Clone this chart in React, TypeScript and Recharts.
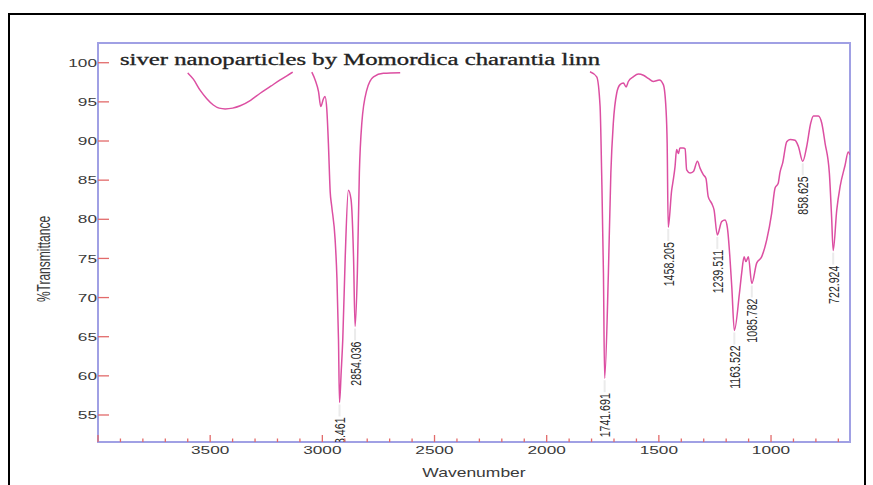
import React from 'react';
import { LineChart, Line, XAxis, YAxis, ReferenceArea, ReferenceDot } from 'recharts';

// Spectrum (wavenumber cm-1, %T). null = part of the trace hidden behind the title box.
const wavenumbers = [
  3600, 3575, 3545, 3515, 3486, 3460, 3433, 3400, 3366, 3320, 3277, 3230, 3188, 3160, 3132,
  3090,
  3047, 3032, 3017, 3007, 2995, 2988, 2980, 2973, 2965, 2958, 2943, 2935, 2928, 2923.461, 2916,
  2909, 2898, 2884, 2872, 2861, 2854.036, 2844, 2835, 2824, 2802, 2772, 2728, 2653,
  2200,
  1807, 1777, 1762, 1755, 1747, 1741.691, 1725, 1714, 1703, 1688, 1673, 1658, 1646, 1636, 1614,
  1591, 1569, 1547, 1525, 1498, 1480, 1468, 1463, 1458.205, 1443, 1436, 1428, 1421, 1413, 1406,
  1391, 1383, 1376, 1361, 1346, 1328, 1316, 1302, 1290, 1280, 1264, 1254, 1239.511, 1220, 1205,
  1195, 1175, 1163.522, 1141, 1131, 1120, 1112, 1101, 1085.782, 1064, 1042, 1019, 997, 982, 968,
  960, 948, 930, 915, 893, 878, 858.625, 841, 823, 811, 789, 774, 759, 740, 730, 722.924, 707,
  692, 670, 656, 648,
];
const transmittance: (number | null)[] = [
  98.7, 97.9, 96.5, 95.4, 94.6, 94.2, 94.1, 94.2, 94.5, 95.2, 96.1, 97.0, 97.8, 98.3, 98.8,
  null,
  98.8, 97.8, 96.3, 94.4, 95.4, 95.7, 94.0, 89.7, 83.5, 81.6, 77.4, 72.5, 64.6, 56.6, 60.5,
  64.6, 75.2, 83.7, 82.5, 75.2, 66.3, 73.1, 85.9, 92.3, 96.5, 98.2, 98.65, 98.72,
  null,
  98.85, 98.2, 94.4, 85.9, 73.1, 59.7, 73.1, 85.9, 92.3, 96.1, 97.2, 97.4, 96.9, 97.6, 98.2,
  98.55, 98.4, 98.0, 97.6, 97.8, 97.2, 94.0, 89.7, 79.0, 83.7, 85.0, 86.7, 88.9, 88.4, 89.1,
  89.1, 89.0, 86.3, 85.9, 86.1, 87.4, 86.5, 85.7, 85.2, 82.9, 82.0, 81.2, 78.0, 79.7, 79.9,
  79.0, 71.4, 65.8, 70.5, 73.1, 75.2, 74.6, 75.2, 71.8, 74.4, 75.2, 77.4, 80.8, 84.0, 84.6,
  86.0, 87.2, 89.9, 90.2, 90.1, 89.3, 87.4, 89.3, 92.3, 93.2, 93.2, 92.3, 89.7, 85.9, 80.3, 76.0, 81.2,
  84.2, 86.9, 88.6, 88.2,
];

const peakWavenumbers = [2923.461, 2854.036, 1741.691, 1458.205, 1239.511, 1163.522, 1085.782, 858.625, 722.924];
const peakTransmittance = [56.6, 66.3, 59.7, 79.0, 78.0, 65.8, 71.8, 87.4, 76.0];
const peakLabels = ['2923.461', '2854.036', '1741.691', '1458.205', '1239.511', '1163.522', '1085.782', '858.625', '722.924'];

const yTicks = [55, 60, 65, 70, 75, 80, 85, 90, 95, 100];
const xMajorTicks = [4000, 3500, 3000, 2500, 2000, 1500, 1000];
const xLabeledTicks = [3500, 3000, 2500, 2000, 1500, 1000];
const xAllTicks = [
  4000, 3900, 3800, 3700, 3600, 3500, 3400, 3300, 3200, 3100, 3000, 2900, 2800, 2700, 2600, 2500,
  2400, 2300, 2200, 2100, 2000, 1900, 1800, 1700, 1600, 1500, 1400, 1300, 1200, 1100, 1000, 900,
  800, 700,
];

const titleText = 'siver nanoparticles by Momordica charantia linn';
const xTitle = 'Wavenumber';
const yTitle = '%Transmittance';

const data = wavenumbers.map((wn, i) => ({ wn, t: transmittance[i] }));

const X_DOMAIN: [number, number] = [648, 4000];
const Y_DOMAIN: [number, number] = [51.55, 102.52];

const SANS = '"Liberation Sans", Arial, Helvetica, sans-serif';
const SERIF = '"Liberation Serif", "Times New Roman", serif';
const FRAME = '#a0a0e4';
const TICK = '#e26a6a';
const LINE = '#dc4fa2';
const TEXT = '#3a3a3a';

const YTick = (p: any) => {
  const { x, y, payload } = p;
  return (
    <g>
      <line x1={x} y1={y} x2={x + 11} y2={y} stroke={TICK} strokeWidth={1.3} />
      <text
        transform={`translate(${x - 1},${y}) scale(1.5,1)`}
        textAnchor="end"
        dy="0.36em"
        fontSize={11.5}
        fontFamily={SANS}
        fill={TEXT}
      >
        {payload.value}
      </text>
    </g>
  );
};

const XTick = (p: any) => {
  const { x, y, payload } = p;
  const v = payload.value;
  const major = xMajorTicks.includes(v);
  const labeled = xLabeledTicks.includes(v);
  return (
    <g>
      <line x1={x} y1={y} x2={x} y2={y - (major ? 7 : 3.5)} stroke={TICK} strokeWidth={1.3} />
      {labeled && (
        <text
          transform={`translate(${x},${y + 8}) scale(1.5,1)`}
          textAnchor="middle"
          dy="0.36em"
          fontSize={11.5}
          fontFamily={SANS}
          fill={TEXT}
        >
          {v}
        </text>
      )}
    </g>
  );
};

const peakShape = (label: string) => (p: any) => {
  const { cx, cy, clipPath } = p;
  return (
    <g clipPath={clipPath}>
      <line x1={cx} y1={cy + 2} x2={cx} y2={cy + 14} stroke="#ebebeb" strokeWidth={2} />
      <text
        transform={`translate(${cx},${cy + 15}) scale(1.45,1) rotate(-90)`}
        textAnchor="end"
        dy="0.36em"
        fontSize={10.6}
        fontFamily={SANS}
        fill="#2a2a2a"
      >
        {label}
      </text>
    </g>
  );
};

export default function App() {
  return (
    <div style={{ position: 'absolute', left: 0, top: 0, width: 873, height: 485, background: '#fff' }}>
      <LineChart width={873} height={485} data={data} margin={{ top: 43, right: 23, left: 58, bottom: 23 }}>
        <XAxis
          dataKey="wn"
          type="number"
          domain={X_DOMAIN}
          reversed
          allowDataOverflow
          ticks={xAllTicks}
          interval={0}
          tickSize={0}
          tickMargin={0}
          tickLine={false}
          axisLine={false}
          height={20}
          tick={<XTick />}
        />
        <YAxis
          type="number"
          domain={Y_DOMAIN}
          allowDataOverflow
          ticks={yTicks}
          interval={0}
          tickSize={0}
          tickMargin={0}
          tickLine={false}
          axisLine={false}
          width={40}
          tick={<YTick />}
        />
        <ReferenceArea
          x1={X_DOMAIN[1]}
          x2={X_DOMAIN[0]}
          y1={Y_DOMAIN[0]}
          y2={Y_DOMAIN[1]}
          fill="none"
          stroke={FRAME}
          strokeWidth={2}
          ifOverflow="visible"
        />
        <Line
          dataKey="t"
          type="monotone"
          stroke={LINE}
          strokeWidth={1.5}
          dot={false}
          connectNulls={false}
          isAnimationActive={false}
        />
        {peakWavenumbers.map((wn, i) => (
          <ReferenceDot
            key={peakLabels[i]}
            x={wn}
            y={peakTransmittance[i]}
            r={0}
            ifOverflow="hidden"
            shape={peakShape(peakLabels[i])}
          />
        ))}
      </LineChart>
      <svg
        width={873}
        height={485}
        style={{ position: 'absolute', left: 0, top: 0, pointerEvents: 'none' }}
      >
        <rect x={9} y={14} width={856} height={490} fill="none" stroke="#000" strokeWidth={2} />
        <text
          transform="translate(120,64.5) scale(1.5,1)"
          fontSize={16.5}
          fontFamily={SERIF}
          fill="#222"
          stroke="#222"
          strokeWidth={0.3}
        >
          {titleText}
        </text>
        <text
          transform="translate(474,472) scale(1.4,1)"
          textAnchor="middle"
          dy="0.36em"
          fontSize={12.5}
          fontFamily={SANS}
          fill={TEXT}
        >
          {xTitle}
        </text>
        <text
          transform="translate(43,259) scale(1.6,1) rotate(-90)"
          textAnchor="middle"
          dy="0.36em"
          fontSize={12}
          fontFamily={SANS}
          fill={TEXT}
        >
          {yTitle}
        </text>
      </svg>
    </div>
  );
}
